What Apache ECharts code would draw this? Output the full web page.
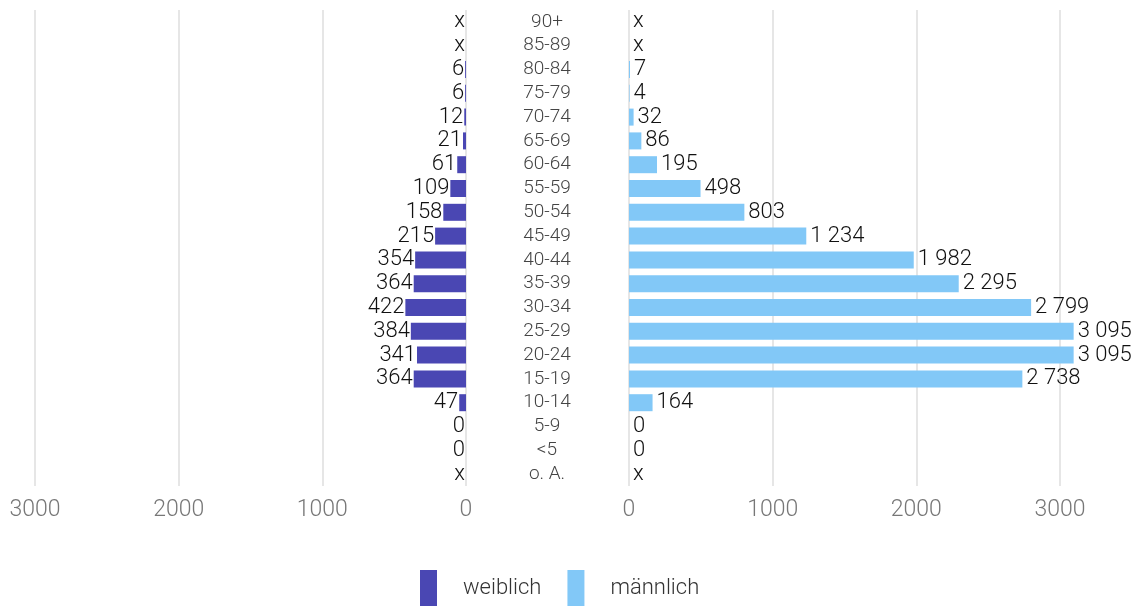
<!DOCTYPE html>
<html>
<head>
<meta charset="utf-8">
<script src="https://cdn.jsdelivr.net/npm/echarts@6/dist/echarts.min.js"></script>
<style>
  html, body { margin: 0; padding: 0; background: #fff; }
  #chart { width: 1147px; height: 606px; }
</style>
</head>
<body>
<div id="chart"></div>
<script>
  // Altersgruppen von oben nach unten
  var ageGroups = ['90+', '85-89', '80-84', '75-79', '70-74', '65-69', '60-64', '55-59', '50-54', '45-49',
    '40-44', '35-39', '30-34', '25-29', '20-24', '15-19', '10-14', '5-9', '<5', 'o. A.'];
  // null = "x" (Wert unterdrückt)
  var weiblich = [null, null, 6, 6, 12, 21, 61, 109, 158, 215, 354, 364, 422, 384, 341, 364, 47, 0, 0, null];
  var maennlich = [null, null, 7, 4, 32, 86, 195, 498, 803, 1234, 1982, 2295, 2799, 3095, 3095, 2738, 164, 0, 0, null];
  var axisTicks = [0, 1000, 2000, 3000];

  var colW = '#4a47b3';
  var colM = '#82c8f7';

  function fmt(v) {
    if (v === null) return 'x';
    return String(v).replace(/\B(?=(\d{3})+(?!\d))/g, ' ');
  }

  var chart = echarts.init(document.getElementById('chart'));
  var xCommon = {
    type: 'value',
    min: axisTicks[0],
    max: axisTicks[axisTicks.length - 1],
    interval: 1000,
    axisLine: { show: false },
    axisTick: { show: false },
    axisLabel: {
      color: '#777', fontSize: 23, fontWeight: 300, margin: 13,
      formatter: function (v) { return String(v); }
    },
    splitLine: { show: true, lineStyle: { color: '#e6e6e6', width: 2 } }
  };

  chart.setOption({
    animation: false,
    textStyle: { fontFamily: 'Roboto' },
    legend: {
      top: 570,
      left: 420,
      padding: 0,
      itemWidth: 17,
      itemHeight: 36,
      itemGap: 26,
      icon: 'rect',
      textStyle: { fontSize: 22, fontWeight: 300, color: '#333', padding: [0, 0, 0, 21] },
      data: ['weiblich', 'männlich']
    },
    grid: [
      { left: 35, width: 431, top: 10, height: 476 },
      { left: 629, width: 431, top: 10, height: 476 }
    ],
    xAxis: [
      Object.assign({}, xCommon, { gridIndex: 0, inverse: true }),
      Object.assign({}, xCommon, { gridIndex: 1 })
    ],
    yAxis: [
      {
        type: 'category', gridIndex: 0, inverse: true, position: 'right',
        data: ageGroups,
        axisLine: { show: false }, axisTick: { show: false },
        axisLabel: { interval: 0, align: 'center', margin: 81, fontSize: 19, fontWeight: 300, color: '#444' }
      },
      {
        type: 'category', gridIndex: 1, inverse: true,
        data: ageGroups,
        axisLine: { show: false }, axisTick: { show: false },
        axisLabel: { show: false }
      }
    ],
    series: [
      {
        name: 'weiblich', type: 'bar', xAxisIndex: 0, yAxisIndex: 0,
        barWidth: 17, clip: false,
        itemStyle: { color: colW },
        data: weiblich.map(function (v) { return v === null ? 0 : v; }),
        label: {
          show: true, position: 'left', distance: 1, fontSize: 22, fontWeight: 300, color: '#111',
          formatter: function (p) { return fmt(weiblich[p.dataIndex]); }
        }
      },
      {
        name: 'männlich', type: 'bar', xAxisIndex: 1, yAxisIndex: 1,
        barWidth: 17, clip: false,
        itemStyle: { color: colM },
        data: maennlich.map(function (v) { return v === null ? 0 : v; }),
        label: {
          show: true, position: 'right', distance: 4, fontSize: 22, fontWeight: 300, color: '#111',
          formatter: function (p) { return fmt(maennlich[p.dataIndex]); }
        }
      }
    ]
  });
</script>
</body>
</html>
